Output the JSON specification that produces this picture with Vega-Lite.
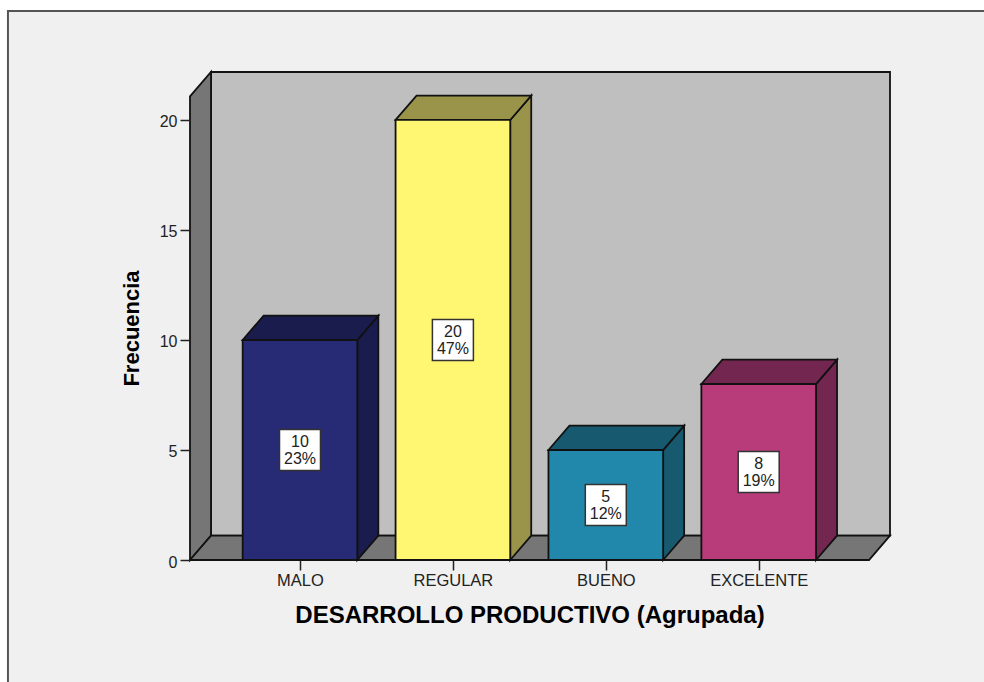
{"$schema":"https://vega.github.io/schema/vega-lite/v6.json","width":700,"height":488,"autosize":{"type":"none"},"padding":{"left":190,"top":72,"right":94,"bottom":122},"background":"#ffffff","view":{"stroke":null},"config":{"font":"Liberation Sans","axis":{"grid":false,"labelFont":"Liberation Sans","titleFont":"Liberation Sans"}},"datasets":{"marco":[{"cara":"marco","x":-1.91,"y0":-6,"y1":24.95},{"cara":"marco","x":4.6,"y0":-6,"y1":24.95}],"barras":[{"categoria":"MALO","pos":0,"frecuencia":10,"centro":5,"etiqueta":"10\n23%"},{"categoria":"REGULAR","pos":1,"frecuencia":20,"centro":10,"etiqueta":"20\n47%"},{"categoria":"BUENO","pos":2,"frecuencia":5,"centro":2.5,"etiqueta":"5\n12%"},{"categoria":"EXCELENTE","pos":3,"frecuencia":8,"centro":4,"etiqueta":"8\n19%"}],"caras":[{"cara":"fondo","x":-0.5821,"y0":1.11,"y1":22.18},{"cara":"fondo","x":3.8587,"y0":1.11,"y1":22.18},{"cara":"pared","x":-0.7194,"y0":0,"y1":21.07},{"cara":"pared","x":-0.5821,"y0":1.11,"y1":22.18},{"cara":"suelo","x":-0.7194,"y0":0,"y1":0},{"cara":"suelo","x":-0.5821,"y0":0,"y1":1.11},{"cara":"suelo","x":3.7214,"y0":0,"y1":1.11},{"cara":"suelo","x":3.8587,"y0":1.11,"y1":1.11},{"cara":"MALO lado","x":0.375,"y0":0,"y1":10},{"cara":"MALO lado","x":0.5123,"y0":1.11,"y1":11.11},{"cara":"MALO techo","x":-0.375,"y0":10,"y1":10},{"cara":"MALO techo","x":-0.2377,"y0":10,"y1":11.11},{"cara":"MALO techo","x":0.375,"y0":10,"y1":11.11},{"cara":"MALO techo","x":0.5123,"y0":11.11,"y1":11.11},{"cara":"MALO frente","x":-0.375,"y0":0,"y1":10},{"cara":"MALO frente","x":0.375,"y0":0,"y1":10},{"cara":"REGULAR lado","x":1.375,"y0":0,"y1":20},{"cara":"REGULAR lado","x":1.5123,"y0":1.11,"y1":21.11},{"cara":"REGULAR techo","x":0.625,"y0":20,"y1":20},{"cara":"REGULAR techo","x":0.7623,"y0":20,"y1":21.11},{"cara":"REGULAR techo","x":1.375,"y0":20,"y1":21.11},{"cara":"REGULAR techo","x":1.5123,"y0":21.11,"y1":21.11},{"cara":"REGULAR frente","x":0.625,"y0":0,"y1":20},{"cara":"REGULAR frente","x":1.375,"y0":0,"y1":20},{"cara":"BUENO lado","x":2.375,"y0":0,"y1":5},{"cara":"BUENO lado","x":2.5123,"y0":1.11,"y1":6.11},{"cara":"BUENO techo","x":1.625,"y0":5,"y1":5},{"cara":"BUENO techo","x":1.7623,"y0":5,"y1":6.11},{"cara":"BUENO techo","x":2.375,"y0":5,"y1":6.11},{"cara":"BUENO techo","x":2.5123,"y0":6.11,"y1":6.11},{"cara":"BUENO frente","x":1.625,"y0":0,"y1":5},{"cara":"BUENO frente","x":2.375,"y0":0,"y1":5},{"cara":"EXCELENTE lado","x":3.375,"y0":0,"y1":8},{"cara":"EXCELENTE lado","x":3.5123,"y0":1.11,"y1":9.11},{"cara":"EXCELENTE techo","x":2.625,"y0":8,"y1":8},{"cara":"EXCELENTE techo","x":2.7623,"y0":8,"y1":9.11},{"cara":"EXCELENTE techo","x":3.375,"y0":8,"y1":9.11},{"cara":"EXCELENTE techo","x":3.5123,"y0":9.11,"y1":9.11},{"cara":"EXCELENTE frente","x":2.625,"y0":0,"y1":8},{"cara":"EXCELENTE frente","x":3.375,"y0":0,"y1":8}]},"layer":[{"data":{"name":"marco"},"mark":{"type":"area","orient":"vertical","fill":"#f0f0f0","stroke":"#555555","strokeWidth":2},"encoding":{"x":{"field":"x","type":"quantitative","scale":{"domain":[-0.7194,3.8587],"nice":false,"zero":false}},"y":{"field":"y0","type":"quantitative","stack":null,"scale":{"domain":[0,22.18],"nice":false}},"y2":{"field":"y1"}}},{"data":{"name":"caras"},"mark":{"type":"area","orient":"vertical","stroke":"#111111","strokeWidth":1.8,"strokeJoin":"miter"},"encoding":{"x":{"field":"x","type":"quantitative","axis":{"zindex":1,"values":[0,1,2,3],"labelExpr":"['MALO','REGULAR','BUENO','EXCELENTE'][datum.value]","grid":false,"domain":false,"tickSize":10,"tickColor":"#222222","tickWidth":1.5,"labelFontSize":16.5,"labelColor":"#222222","labelPadding":2,"title":"DESARROLLO PRODUCTIVO (Agrupada)","titleFontSize":24,"titleFontWeight":"bold","titleColor":"#000000","titleX":339.5,"titleY":43}},"y":{"field":"y0","type":"quantitative","stack":null,"axis":{"zindex":1,"values":[0,5,10,15,20],"grid":false,"domain":false,"tickSize":10,"tickColor":"#222222","tickWidth":1.5,"labelFontSize":16,"labelColor":"#222222","labelPadding":3,"labelOffset":2,"title":"Frecuencia","titleFontSize":22,"titleFontWeight":"bold","titleColor":"#000000","titleX":-47,"titleY":256}},"y2":{"field":"y1"},"color":{"field":"cara","type":"nominal","legend":null,"scale":{"domain":["fondo","pared","suelo","MALO frente","MALO lado","MALO techo","REGULAR frente","REGULAR lado","REGULAR techo","BUENO frente","BUENO lado","BUENO techo","EXCELENTE frente","EXCELENTE lado","EXCELENTE techo"],"range":["#bfbfbf","#767676","#767676","#272a75","#1a1c4e","#1a1c4e","#fff671","#99944a","#99944a","#2288ab","#175a70","#175a70","#b83c7a","#722650","#722650"]}}}},{"data":{"name":"barras"},"mark":{"type":"point","shape":"square","filled":true,"fill":"#ffffff","stroke":"#333333","strokeWidth":1.5,"size":1680,"opacity":1},"encoding":{"x":{"field":"pos","type":"quantitative"},"y":{"field":"centro","type":"quantitative"}}},{"data":{"name":"barras"},"mark":{"type":"text","lineBreak":"\n","lineHeight":17,"fontSize":16,"dy":-8,"color":"#222222","align":"center","baseline":"middle"},"encoding":{"x":{"field":"pos","type":"quantitative"},"y":{"field":"centro","type":"quantitative"},"text":{"field":"etiqueta"}}}]}
